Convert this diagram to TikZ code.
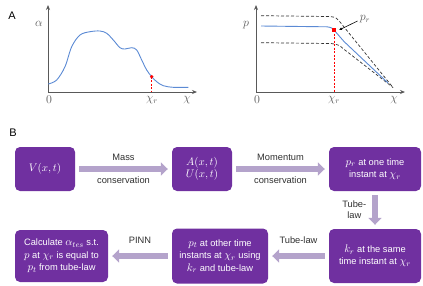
\documentclass[tikz,border=0pt]{standalone}
\usepackage{fontspec}
\setmainfont{Liberation Sans}
\usetikzlibrary{arrows.meta}
\definecolor{boxc}{HTML}{7030A0}
\definecolor{arrc}{HTML}{B4A3CB}
\definecolor{axc}{HTML}{595959}
\definecolor{curvec}{HTML}{5B8AD4}
\definecolor{labc}{HTML}{303030}
\newcommand{\mm}[1]{{\fontsize{11}{12.5}\selectfont$#1$}}
\begin{document}
\begin{tikzpicture}[x=1pt,y=-1pt,
  box/.style={fill=boxc, rounded corners=5pt, text=white, align=center, inner sep=0pt, font=\fontsize{9.3}{12.5}\selectfont},
  barrow/.style={draw=arrc, line width=5.5pt, -{Triangle[length=7pt,width=13pt]}, shorten <=4pt, shorten >=4pt},
  alab/.style={font=\fontsize{9.3}{11}\selectfont, text=labc, inner sep=0pt},
  axis/.style={draw=axc, line width=0.8pt, -{Stealth[length=5pt,width=4pt]}},
  mlab/.style={font=\fontsize{12}{14}\selectfont, inner sep=0pt, text=axc},
  guide/.style={draw=black!80, line width=0.7pt, dash pattern=on 3pt off 2pt},
  rdash/.style={draw=red, line width=0.6pt, dash pattern=on 2pt off 1.5pt},
  plab/.style={font=\fontsize{11}{13}\selectfont, inner sep=0pt},
]
\useasboundingbox (0,0) rectangle (423,285);
% ---------- Panel A ----------
\node[plab] (lA) at (12,16) {A};
% left plot
\coordinate (o1) at (48,92);
\coordinate (y1) at (48,5);
\coordinate (x1) at (197,92);
\draw[axis] (o1) -- (y1);
\draw[axis] (o1) -- (x1);
\draw[curvec, line width=0.9pt] plot[smooth, tension=0.55] coordinates {
 (48.3,84) (56.7,80) (65,66.7) (71.7,46.7) (80,35) (90,31.7) (100,31)
 (106.7,33.3) (113.3,40) (120,47.7) (125,49) (131.7,47.7) (136.7,50)
 (141.7,60) (146.7,70) (151.7,76.7) (156.7,81.7) (163.3,85.7) (173.3,87.3) (188.3,87.3)};
\coordinate (d1) at (151.7,76.7);
\draw[rdash] (d1) -- (d1 |- o1);
\fill[red] (d1) circle (1.8pt);
\node[mlab] (al) at (39,24) {$\alpha$};
\node[mlab] (z1) at (49,100) {$0$};
\node[mlab] (cr1) at (152,100) {$\chi_r$};
\node[mlab] (c1) at (187,100) {$\chi$};
% right plot
\coordinate (o2) at (256,92);
\coordinate (y2) at (256,5);
\coordinate (x2) at (405,92);
\draw[axis] (o2) -- (y2);
\draw[axis] (o2) -- (x2);
\draw[guide] (261,15.7) -- (330,16.5) .. controls (336,17) and (338,19) .. (340,22) -- (393,87.5);
\draw[guide] (261,42.7) -- (331,43.5) .. controls (337,44) and (340,45.5) .. (343,48.5) -- (393,87.5);
\draw[curvec, line width=0.9pt] (261,26) -- (327,26.8) .. controls (331,27.2) and (333,28.5) .. (334,30) -- (344,41.5) -- (388,83);
\coordinate (d2) at (334,30);
\draw[rdash] (d2) -- (d2 |- o2);
\fill[red] (332.3,28.3) rectangle (335.7,31.7);
\node[mlab] (pl) at (246,25) {$p$};
\node[mlab] (z2) at (257,100) {$0$};
\node[mlab] (cr2) at (334,100) {$\chi_r$};
\node[mlab] (c2) at (394,100) {$\chi$};
\node[mlab] (pr) at (365,19) {$p_r$};
\coordinate (pd) at (339,30);
\draw[black, line width=0.6pt, -{Latex[length=3pt,width=3pt]}] (pr.west) ++(-2,2) -- (pd);
% ---------- Panel B ----------
\node[plab] (lB) at (13,133) {B};
\node[box, minimum width=60pt, minimum height=44pt] (b1) at (45,169) {\mm{V(x,t)}};
\node[box, minimum width=60pt, minimum height=44pt] (b2) at (202,169) {\mm{A(x,t)}\\\mm{U(x,t)}};
\node[box, minimum width=92pt, minimum height=44pt] (b3) at (375,169) {\mm{p_r} at one time\\instant at \mm{\chi_r}};
\node[box, minimum width=92pt, minimum height=54pt] (b4) at (375,256) {\mm{k_r} at the same\\time instant at \mm{\chi_r}};
\node[box, minimum width=96pt, minimum height=55pt] (b5) at (220,256) {\mm{p_t} at other time\\instants at \mm{\chi_r} using\\\mm{k_r} and tube-law};
\node[box, minimum width=93pt, minimum height=52pt] (b6) at (61.5,256) {Calculate \mm{\alpha_{tes}} s.t.\\\mm{p} at \mm{\chi_r} is equal to\\\mm{p_t} from tube-law};
\draw[barrow] (b1) -- node[alab, above=5.5pt]{Mass} node[alab, below=4.7pt]{conservation} (b2);
\draw[barrow] (b2) -- node[alab, above=5.5pt]{Momentum} node[alab, below=4.7pt]{conservation} (b3);
\draw[barrow] (b3) -- node[alab, left=6pt, align=center]{Tube-\\law} (b4);
\draw[barrow] (b4) -- node[alab, above=10pt]{Tube-law} (b5);
\draw[barrow] (b5) -- node[alab, above=10pt]{PINN} (b6);
\end{tikzpicture}
\end{document}
